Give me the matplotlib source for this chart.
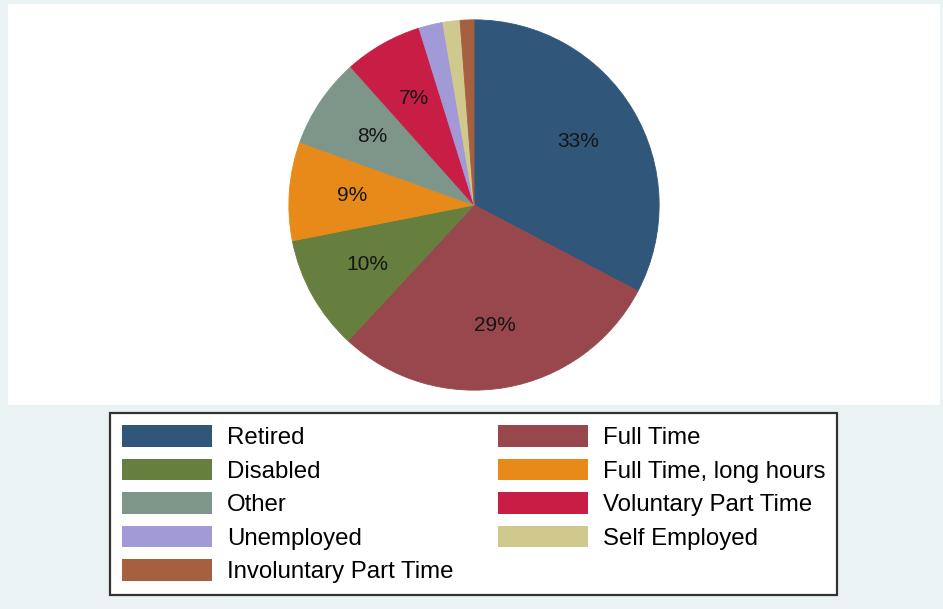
import matplotlib
matplotlib.use('Agg')
import matplotlib.pyplot as plt
from matplotlib.patches import Patch, Rectangle

# employment status shares (percent), clockwise from 12 o'clock
categories = ['Retired', 'Full Time', 'Disabled', 'Full Time, long hours', 'Other',
              'Voluntary Part Time', 'Unemployed', 'Self Employed', 'Involuntary Part Time']
shares = [32.7, 29.2, 10.0, 8.6, 7.9, 6.8, 2.1, 1.5, 1.2]
colors = ['#30577a', '#98474d', '#667f3f', '#e88a1a', '#7e968a',
          '#c81e46', '#a29ad6', '#cfc98e', '#a65f3f']

plt.rcParams['font.family'] = ['Liberation Sans', 'DejaVu Sans']

fig = plt.figure(figsize=(9.43, 6.09), dpi=100, facecolor='#eaf2f3')
W, H = 943, 609

# white plot region behind the pie
fig.patches.append(Rectangle((8 / W, 1 - 405 / H), 932 / W, 401 / H,
                             transform=fig.transFigure, facecolor='white',
                             edgecolor='none', zorder=-1))

# pie axes: centre (474, 205) px, radius 187 px
r = 187
ax = fig.add_axes([(474 - r) / W, 1 - (205 + r) / H, 2 * r / W, 2 * r / H])
ax.set_facecolor('none')


def pct_label(p):
    return f'{p:.0f}%' if p >= 5 else ''


wedges, texts, autotexts = ax.pie(shares, colors=colors, startangle=90, counterclock=False,
                                  autopct=pct_label, pctdistance=0.66, radius=1,
                                  wedgeprops=dict(linewidth=0.6),
                                  textprops=dict(fontsize=15, color='#151515'))
for w, c in zip(wedges, colors):
    w.set_edgecolor(c)
ax.set_xlim(-1.01, 1.01)
ax.set_ylim(-1.01, 1.01)
ax.set_aspect('equal')
ax.axis('off')

# legend filled row by row, two columns
handles = [Patch(facecolor=c, edgecolor='none') for c in colors]
order = [0, 2, 4, 6, 8, 1, 3, 5, 7]
leg = fig.legend([handles[i] for i in order], [categories[i] for i in order],
                 ncol=2, loc='upper left', bbox_to_anchor=(110 / W, 1 - 413 / H),
                 fontsize=17.3, handlelength=3.75, handleheight=1.0, handletextpad=0.62,
                 columnspacing=1.85, labelspacing=0.4, borderpad=0.5,
                 borderaxespad=0, fancybox=False, framealpha=1)
leg.get_frame().set_edgecolor('#333333')
leg.get_frame().set_linewidth(1.6)

fig.savefig('out.png', dpi=100, facecolor=fig.get_facecolor())
